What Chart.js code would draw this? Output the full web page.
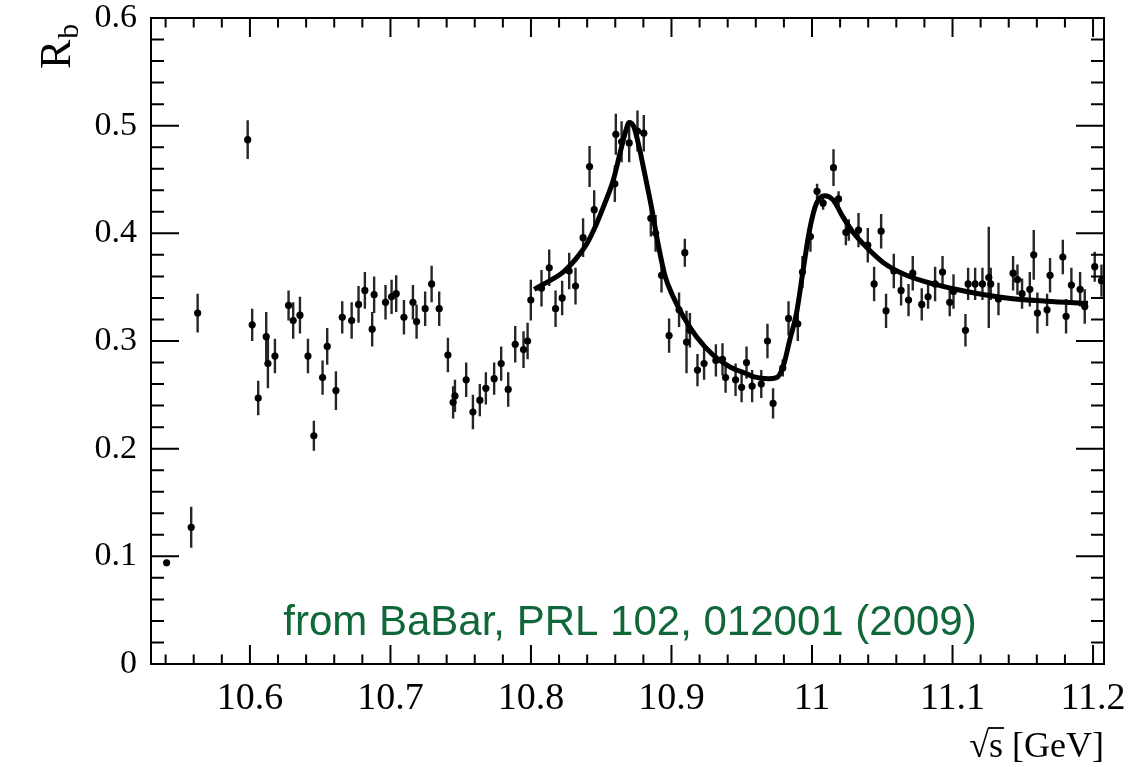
<!DOCTYPE html>
<html>
<head>
<meta charset="utf-8">
<title>R_b scan</title>
<script src="https://cdn.jsdelivr.net/npm/chart.js@4/dist/chart.umd.min.js"></script>
<style>
  html, body { margin: 0; padding: 0; background: #fff; }
  #plot { display: block; }
</style>
</head>
<body>
<canvas id="plot" width="1148" height="767"></canvas>
<script>
// ── Data: R_b vs sqrt(s) scan points and fit curve ─────────────────────────

const energy = [
  10.5407, 10.5582, 10.5628, 10.5984, 10.6016, 10.6059, 10.6116, 10.6128, 10.6178, 10.6275,
  10.6308, 10.6356, 10.6413, 10.6455, 10.6517, 10.655, 10.6612, 10.6657, 10.6724, 10.6773,
  10.6818, 10.687, 10.6884, 10.6965, 10.7008, 10.7041, 10.7096, 10.716, 10.7186, 10.7247,
  10.7293, 10.7347, 10.7409, 10.7446, 10.7459, 10.7539, 10.7587, 10.7636, 10.7679, 10.7738,
  10.7788, 10.7838, 10.7888, 10.7947, 10.7976, 10.7999, 10.8075, 10.813, 10.8175, 10.8222,
  10.8272, 10.8317, 10.8371, 10.8417, 10.845, 10.8597, 10.8604, 10.8645, 10.8699, 10.8758,
  10.8803, 10.8853, 10.8887, 10.8929, 10.8983, 10.9054, 10.9095, 10.9107, 10.9131, 10.9185,
  10.9232, 10.9316, 10.9363, 10.9385, 10.9456, 10.9499, 10.9534, 10.9574, 10.9639, 10.9683,
  10.9723, 10.9792, 10.9833, 10.9899, 10.9932, 10.9989, 11.0036, 11.0079, 11.0153, 11.0189,
  11.0241, 11.0262, 11.0331, 11.0397, 11.0442, 11.0492, 11.0527, 11.0582, 11.0634, 11.0687,
  11.0717, 11.0781, 11.0826, 11.0876, 11.0929, 11.098, 11.1007, 11.1092, 11.1111, 11.1161,
  11.1213, 11.1258, 11.1272, 11.1327, 11.1431, 11.1462, 11.1495, 11.155, 11.1578, 11.1604,
  11.1673, 11.1694, 11.1785, 11.1808, 11.1846, 11.1908, 11.1941, 11.2012, 11.206
];

const rb = [
  0.094, 0.127, 0.326, 0.487, 0.315, 0.247, 0.304, 0.279, 0.286, 0.333,
  0.319, 0.324, 0.286, 0.212, 0.266, 0.295, 0.254, 0.322, 0.319, 0.334,
  0.347, 0.311, 0.343, 0.336, 0.341, 0.344, 0.322, 0.336, 0.318, 0.330,
  0.353, 0.330, 0.287, 0.243, 0.249, 0.264, 0.234, 0.245, 0.256, 0.265,
  0.279, 0.255, 0.297, 0.292, 0.300, 0.338, 0.349, 0.368, 0.330, 0.340,
  0.365, 0.351, 0.396, 0.462, 0.422, 0.446, 0.492, 0.485, 0.484, 0.495,
  0.493, 0.414, 0.400, 0.361, 0.305, 0.329, 0.382, 0.299, 0.310, 0.273,
  0.279, 0.282, 0.283, 0.266, 0.264, 0.257, 0.280, 0.258, 0.260, 0.300,
  0.242, 0.275, 0.321, 0.316, 0.364, 0.397, 0.439, 0.428, 0.461, 0.432,
  0.401, 0.403, 0.403, 0.389, 0.353, 0.402, 0.328, 0.365, 0.347, 0.338,
  0.363, 0.334, 0.341, 0.353, 0.364, 0.336, 0.346, 0.310, 0.353, 0.353,
  0.353, 0.359, 0.353, 0.339, 0.363, 0.357, 0.344, 0.348, 0.380, 0.326,
  0.329, 0.361, 0.378, 0.323, 0.352, 0.348, 0.332, 0.369, 0.356
];

const rbErr = [
  0.002, 0.019, 0.018, 0.018, 0.015, 0.016, 0.023, 0.023, 0.016, 0.014,
  0.017, 0.017, 0.016, 0.014, 0.016, 0.017, 0.018, 0.015, 0.017, 0.017,
  0.017, 0.016, 0.017, 0.016, 0.016, 0.017, 0.016, 0.016, 0.016, 0.016,
  0.017, 0.016, 0.016, 0.015, 0.015, 0.016, 0.016, 0.015, 0.015, 0.015,
  0.016, 0.016, 0.017, 0.017, 0.017, 0.019, 0.017, 0.017, 0.017, 0.016,
  0.017, 0.017, 0.018, 0.019, 0.018, 0.017, 0.019, 0.019, 0.018, 0.019,
  0.017, 0.017, 0.017, 0.016, 0.016, 0.016, 0.013, 0.029, 0.016, 0.015,
  0.015, 0.015, 0.015, 0.014, 0.015, 0.014, 0.015, 0.015, 0.013, 0.016,
  0.014, 0.008, 0.016, 0.016, 0.015, 0.014, 0.007, 0.006, 0.017, 0.007,
  0.012, 0.010, 0.016, 0.016, 0.016, 0.016, 0.016, 0.016, 0.014, 0.015,
  0.016, 0.015, 0.011, 0.016, 0.015, 0.013, 0.016, 0.015, 0.015, 0.015,
  0.015, 0.047, 0.015, 0.015, 0.016, 0.014, 0.014, 0.016, 0.023, 0.019,
  0.015, 0.016, 0.016, 0.016, 0.016, 0.016, 0.016, 0.014, 0.015
];

// fit curve, read along its length
const fitEnergy = [
  10.8023, 10.8134, 10.8229, 10.8324, 10.8396, 10.8467, 10.8526, 10.8585, 10.8633, 10.8668,
  10.8699, 10.8732, 10.877, 10.881, 10.8858, 10.8905, 10.8953, 10.9012, 10.9083, 10.9178,
  10.9296, 10.9415, 10.9545, 10.9581, 10.9688, 10.9747, 10.9794, 10.9842, 10.989, 10.9937,
  10.9984, 11.0032, 11.0091, 11.015, 11.0221, 11.0292, 11.0388, 11.0506, 11.0672, 11.0862,
  11.1099, 11.1384, 11.1668, 11.1964
];
const fitRb = [
  0.348, 0.356, 0.364, 0.377, 0.390, 0.409, 0.428, 0.449, 0.474, 0.492,
  0.503, 0.499, 0.480, 0.455, 0.424, 0.390, 0.361, 0.341, 0.323, 0.304,
  0.287, 0.276, 0.269, 0.267, 0.265, 0.266, 0.276, 0.301, 0.326, 0.366,
  0.404, 0.428, 0.435, 0.431, 0.415, 0.401, 0.387, 0.373, 0.361, 0.353,
  0.346, 0.340, 0.337, 0.335
];

const xTicks = [10.6, 10.7, 10.8, 10.9, 11.0, 11.1, 11.2];
const xLabels = ["10.6", "10.7", "10.8", "10.9", "11", "11.1", "11.2"];
const yTicks = [0, 0.1, 0.2, 0.3, 0.4, 0.5, 0.6];
const yLabels = ["0", "0.1", "0.2", "0.3", "0.4", "0.5", "0.6"];

const citation = "from BaBar, PRL 102, 012001 (2009)";

// ── Helpers ───────────────────────────────────────────────────────────────

const SERIF = "'Liberation Serif', 'Times New Roman', serif";

function stepTicks(from, to, step) {
  const out = [];
  for (let v = from; v <= to + 1e-9; v += step) out.push({ value: Math.round(v * 1000) / 1000 });
  return out;
}

function majorIndex(list, v) {
  return list.findIndex(t => Math.abs(t - v) < 1e-6);
}

// labels may hang past the plot box; don't let them push it around
function noLabelPadding(s) {
  s.paddingTop = 0; s.paddingBottom = 0;
  s.paddingLeft = 0; s.paddingRight = 0;
}

// error bars, drawn under the markers
const errorBars = {
  id: "errorBars",
  beforeDatasetsDraw(chart) {
    const { ctx, chartArea: a, scales: { x, y } } = chart;
    ctx.save();
    ctx.beginPath();
    ctx.rect(a.left, a.top, a.right - a.left, a.bottom - a.top);
    ctx.clip();
    ctx.beginPath();
    energy.forEach((e, i) => {
      const px = x.getPixelForValue(e);
      ctx.moveTo(px, y.getPixelForValue(rb[i] - rbErr[i]));
      ctx.lineTo(px, y.getPixelForValue(rb[i] + rbErr[i]));
    });
    ctx.lineWidth = 2.4;
    ctx.strokeStyle = "#262626";
    ctx.stroke();
    ctx.restore();
  }
};

// box frame with inward ticks on all four sides, axis titles and citation
const frame = {
  id: "frame",
  afterDraw(chart) {
    const { ctx, chartArea: a, scales: { x, y } } = chart;
    ctx.save();
    ctx.strokeStyle = "#000";
    ctx.lineWidth = 2;
    ctx.beginPath();
    x.ticks.forEach(t => {
      const px = x.getPixelForValue(t.value);
      const len = majorIndex(xTicks, t.value) >= 0 ? 19 : 9.5;
      ctx.moveTo(px, a.bottom); ctx.lineTo(px, a.bottom - len);
      ctx.moveTo(px, a.top);    ctx.lineTo(px, a.top + len);
    });
    y.ticks.forEach(t => {
      const py = y.getPixelForValue(t.value);
      const len = majorIndex(yTicks, t.value) >= 0 ? 28 : 13;
      ctx.moveTo(a.left, py);  ctx.lineTo(a.left + len, py);
      ctx.moveTo(a.right, py); ctx.lineTo(a.right - len, py);
    });
    ctx.stroke();
    ctx.strokeRect(a.left, a.top, a.right - a.left, a.bottom - a.top);

    ctx.fillStyle = "#000";
    ctx.textBaseline = "alphabetic";

    // y title: R with subscript b, rotated
    ctx.save();
    ctx.translate(70, 69);
    ctx.rotate(-Math.PI / 2);
    ctx.font = `44px ${SERIF}`;
    ctx.textAlign = "left";
    ctx.fillText("R", 0, 0);
    const rw = ctx.measureText("R").width;
    ctx.font = `30px ${SERIF}`;
    ctx.fillText("b", rw + 1, 8);
    ctx.restore();

    // x title: sqrt(s) [GeV], right-aligned to the frame
    ctx.font = `36px ${SERIF}`;
    ctx.textAlign = "left";
    const rest = "s [GeV]";
    const wRoot = ctx.measureText("\u221A").width;
    const wS = ctx.measureText("s").width;
    const wRest = ctx.measureText(rest).width;
    const base = 757;
    const x0 = a.right - wRoot - wRest;
    ctx.fillText("\u221A", x0, base);
    ctx.fillText(rest, x0 + wRoot, base);
    ctx.lineWidth = 1.8;
    ctx.beginPath();
    ctx.moveTo(x0 + wRoot - 1, base - 29);
    ctx.lineTo(x0 + wRoot + wS + 1, base - 29);
    ctx.stroke();

    // citation
    ctx.font = "42px 'Liberation Sans', Arial, sans-serif";
    ctx.fillStyle = "#10683a";
    ctx.textAlign = "center";
    ctx.fillText(citation, 630, 635);
    ctx.restore();
  }
};

// ── Chart ─────────────────────────────────────────────────────────────────

const ctx = document.getElementById("plot").getContext("2d");
new Chart(ctx, {
  type: "scatter",
  data: {
    datasets: [
      {
        type: "line",
        label: "fit",
        data: fitEnergy.map((e, i) => ({ x: e, y: fitRb[i] })),
        borderColor: "#000",
        borderWidth: 5,
        pointRadius: 0,
        cubicInterpolationMode: "monotone",
        fill: false,
      },
      {
        label: "data",
        data: energy.map((e, i) => ({ x: e, y: rb[i] })),
        pointRadius: 3.6,
        pointBackgroundColor: "#000",
        pointBorderColor: "#000",
        pointBorderWidth: 0,
      },
    ],
  },
  options: {
    responsive: false,
    animation: false,
    devicePixelRatio: 1,
    layout: { padding: { top: 18, right: 44, left: 0, bottom: 0 } },
    plugins: { legend: { display: false }, tooltip: { enabled: false } },
    scales: {
      x: {
        type: "linear",
        min: 10.5296,
        max: 11.2078,
        afterBuildTicks: s => { s.ticks = stepTicks(10.54, 11.2, 0.02); },
        afterFit: s => { s.height = 103; noLabelPadding(s); },
        grid: { display: false },
        border: { display: false },
        ticks: {
          autoSkip: false,
          maxRotation: 0,
          padding: 4,
          color: "#000",
          font: { family: SERIF, size: 38 },
          callback: v => { const k = majorIndex(xTicks, v); return k >= 0 ? xLabels[k] : ""; },
        },
      },
      y: {
        min: 0,
        max: 0.6,
        afterBuildTicks: s => { s.ticks = stepTicks(0, 0.6, 0.02); },
        afterFit: s => { s.width = 151; noLabelPadding(s); },
        grid: { display: false },
        border: { display: false },
        ticks: {
          autoSkip: false,
          padding: 6,
          color: "#000",
          font: { family: SERIF, size: 34 },
          callback: v => { const k = majorIndex(yTicks, v); return k >= 0 ? yLabels[k] : ""; },
        },
      },
    },
  },
  plugins: [errorBars, frame],
});
</script>
</body>
</html>
